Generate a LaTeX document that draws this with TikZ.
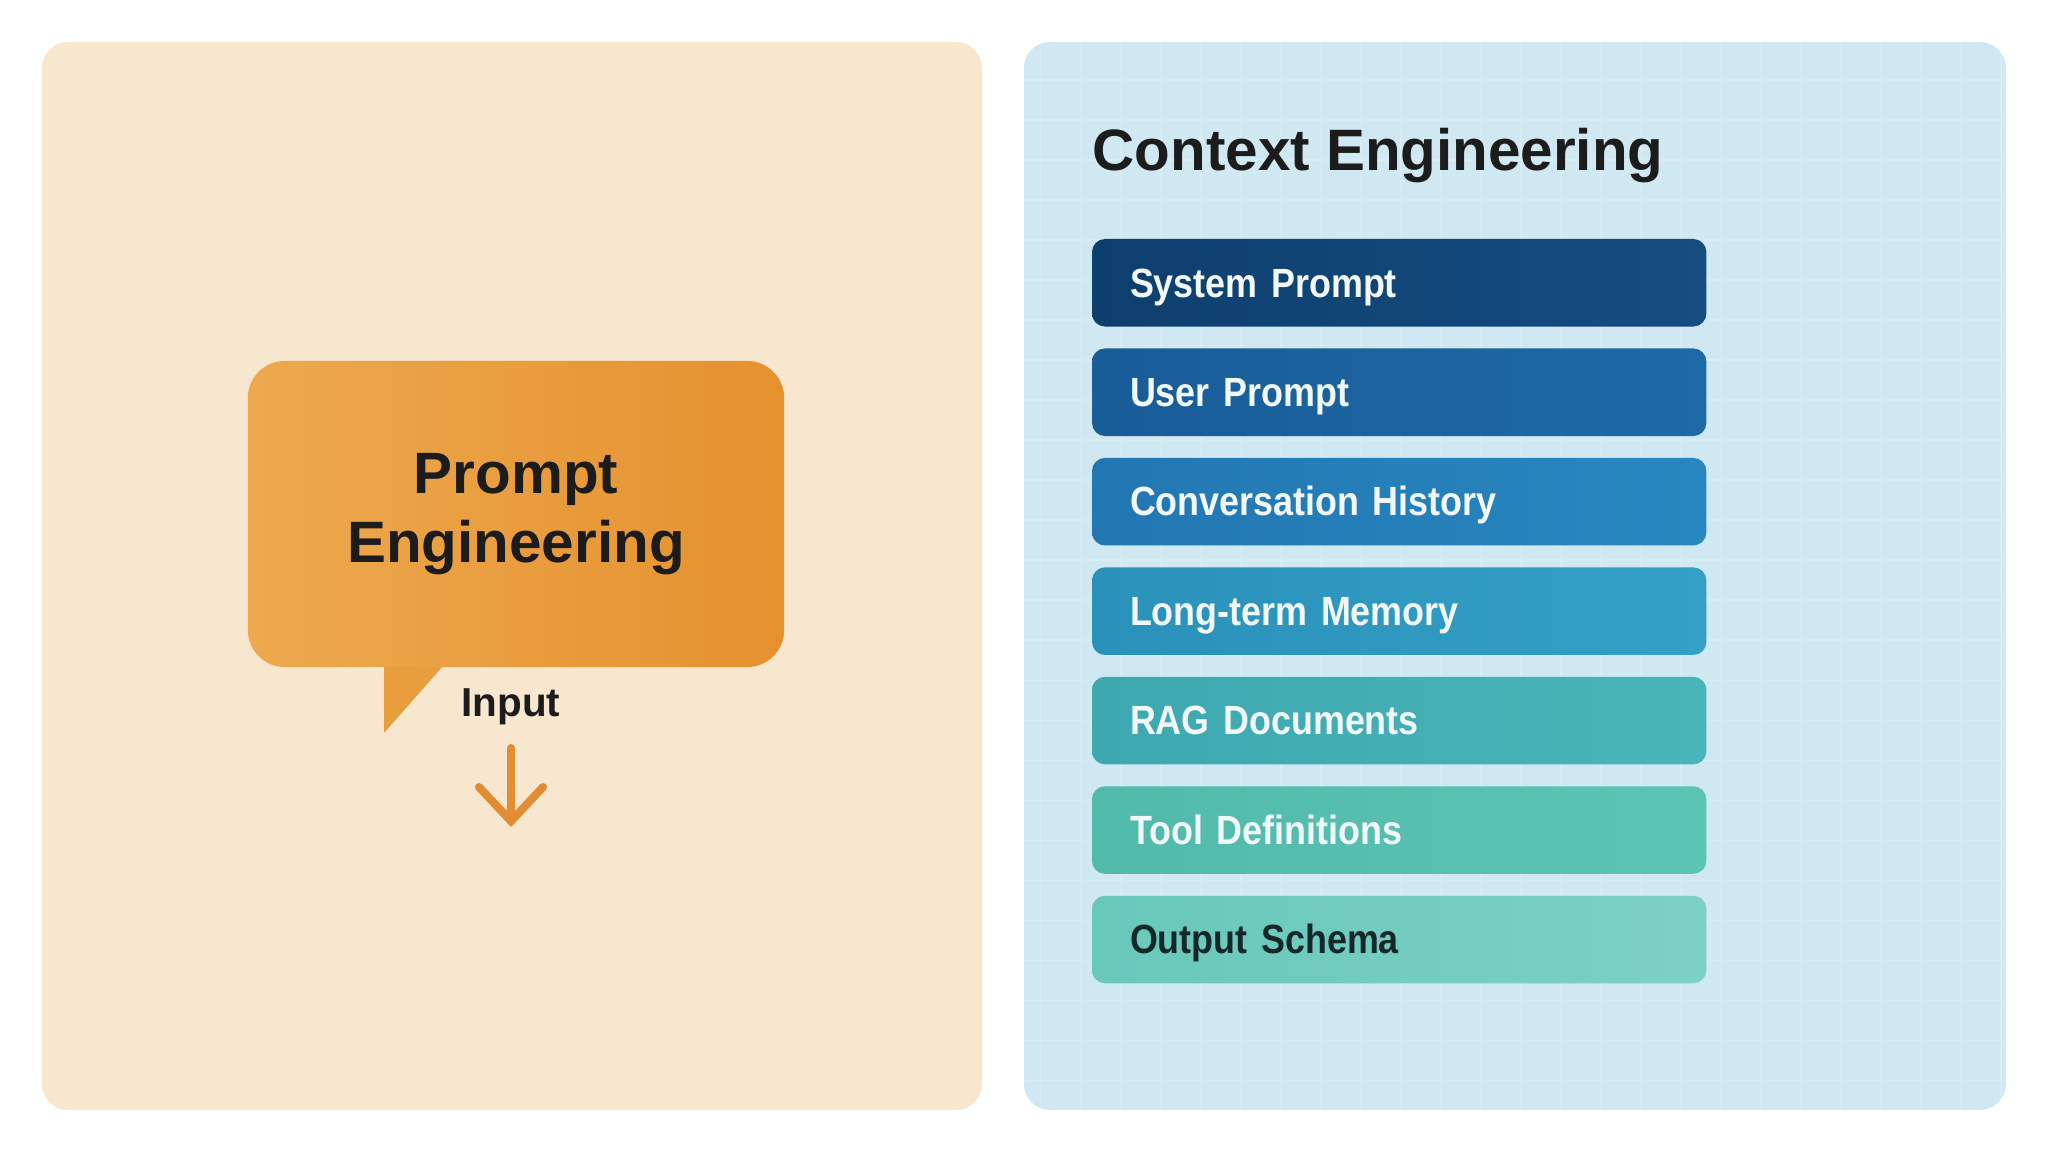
\documentclass[tikz,border=0pt]{standalone}
\usepackage{fontspec}
\setmainfont{Liberation Sans}
\newfontfamily\barfont[FakeStretch=0.88, WordSpace=0.75]{Liberation Sans}
\usepackage{tikz}
\usetikzlibrary{positioning,arrows.meta}
\definecolor{creampanel}{RGB}{247,231,206}
\definecolor{bluepanel}{RGB}{207,232,241}
\definecolor{bubbleleft}{RGB}{237,169,78}
\definecolor{bubbleright}{RGB}{229,145,46}
\definecolor{bubblemid}{RGB}{233,158,62}
\definecolor{arroworange}{RGB}{226,140,52}
\definecolor{inktext}{RGB}{28,28,28}
\definecolor{barlight}{RGB}{242,248,250}
\definecolor{bardark}{RGB}{20,40,42}
\definecolor{sysL}{HTML}{0D3F6E}\definecolor{sysR}{HTML}{154D80}
\definecolor{usrL}{HTML}{185C98}\definecolor{usrR}{HTML}{1E6AA6}
\definecolor{convL}{HTML}{2277B2}\definecolor{convR}{HTML}{2887C0}
\definecolor{memL}{HTML}{2A91BA}\definecolor{memR}{HTML}{34A0C6}
\definecolor{ragL}{HTML}{3DA8B0}\definecolor{ragR}{HTML}{49B5B8}
\definecolor{toolL}{HTML}{52BAAA}\definecolor{toolR}{HTML}{5CC4B5}
\definecolor{outL}{HTML}{68C8BA}\definecolor{outR}{HTML}{7DD0C6}

\begin{document}
\begin{tikzpicture}[
    x=0.01cm, y=-0.01cm,
    panel/.style={rounded corners=0.26cm},
    bubble/.style={rounded corners=0.37cm, minimum width=5.36cm, minimum height=3.06cm,
        align=center, left color=bubbleleft, right color=bubbleright, text=inktext,
        font=\bfseries\fontsize{16.6}{19.6}\selectfont},
    bar/.style={rounded corners=0.13cm, minimum width=6.14cm, minimum height=0.875cm, outer sep=0pt,
        inner xsep=0.38cm, text width=5.38cm, align=left, text height=9.6pt, text depth=1.5pt,
        font=\barfont\bfseries\fontsize{11.6}{13}\selectfont, text=barlight},
    flow/.style={-{Straight Barb[length=0.34cm, width=0.64cm, line cap=round]},
        line width=2.3pt, line cap=round, arroworange},
]
    \useasboundingbox (0,0) rectangle (2048,1152);
    \fill[white] (0,0) rectangle (2048,1152);

    % Two panels
    \fill[panel, creampanel] (42,42) rectangle (982,1110);
    \fill[panel, bluepanel] (1024,42) rectangle (2006,1110);
    % faint grid on the right panel
    \begin{scope}
        \clip[panel] (1024,42) rectangle (2006,1110);
        \draw[white, opacity=0.18, line width=0.5pt, step=0.4cm] (1024,42) grid (2006,1110);
    \end{scope}

    % Speech bubble - tail first, box on top
    \fill[bubblemid] (384,640) -- (466,640) -- (384,733) -- cycle;
    \node[bubble] (prompt) at (516,514) {Prompt\\Engineering};

    \node[font=\bfseries\fontsize{11.5}{13}\selectfont, text=inktext] (input) at (511,707) {Input};
    \coordinate (arrowtop) at (511,748);
    \coordinate (arrowend) at (511,827);
    \draw[flow] (arrowtop) -- (arrowend);

    % Right side title
    \node[anchor=base west, inner sep=0, text=inktext, font=\bfseries\fontsize{16.6}{20}\selectfont]
        (ctxtitle) at (1092,171) {Context Engineering};

    % Stack of context layers
    \node[bar, anchor=north west, left color=sysL, right color=sysR] (sysprompt) at (1092,239) {System Prompt};
    \node[bar, below=0.219cm of sysprompt, left color=usrL, right color=usrR] (userprompt) {User Prompt};
    \node[bar, below=0.219cm of userprompt, left color=convL, right color=convR] (history) {Conversation History};
    \node[bar, below=0.219cm of history, left color=memL, right color=memR] (memory) {Long-term Memory};
    \node[bar, below=0.219cm of memory, left color=ragL, right color=ragR] (ragdocs) {RAG Documents};
    \node[bar, below=0.219cm of ragdocs, left color=toolL, right color=toolR] (tooldefs) {Tool Definitions};
    \node[bar, below=0.219cm of tooldefs, left color=outL, right color=outR, text=bardark] (schema) {Output Schema};
\end{tikzpicture}
\end{document}
